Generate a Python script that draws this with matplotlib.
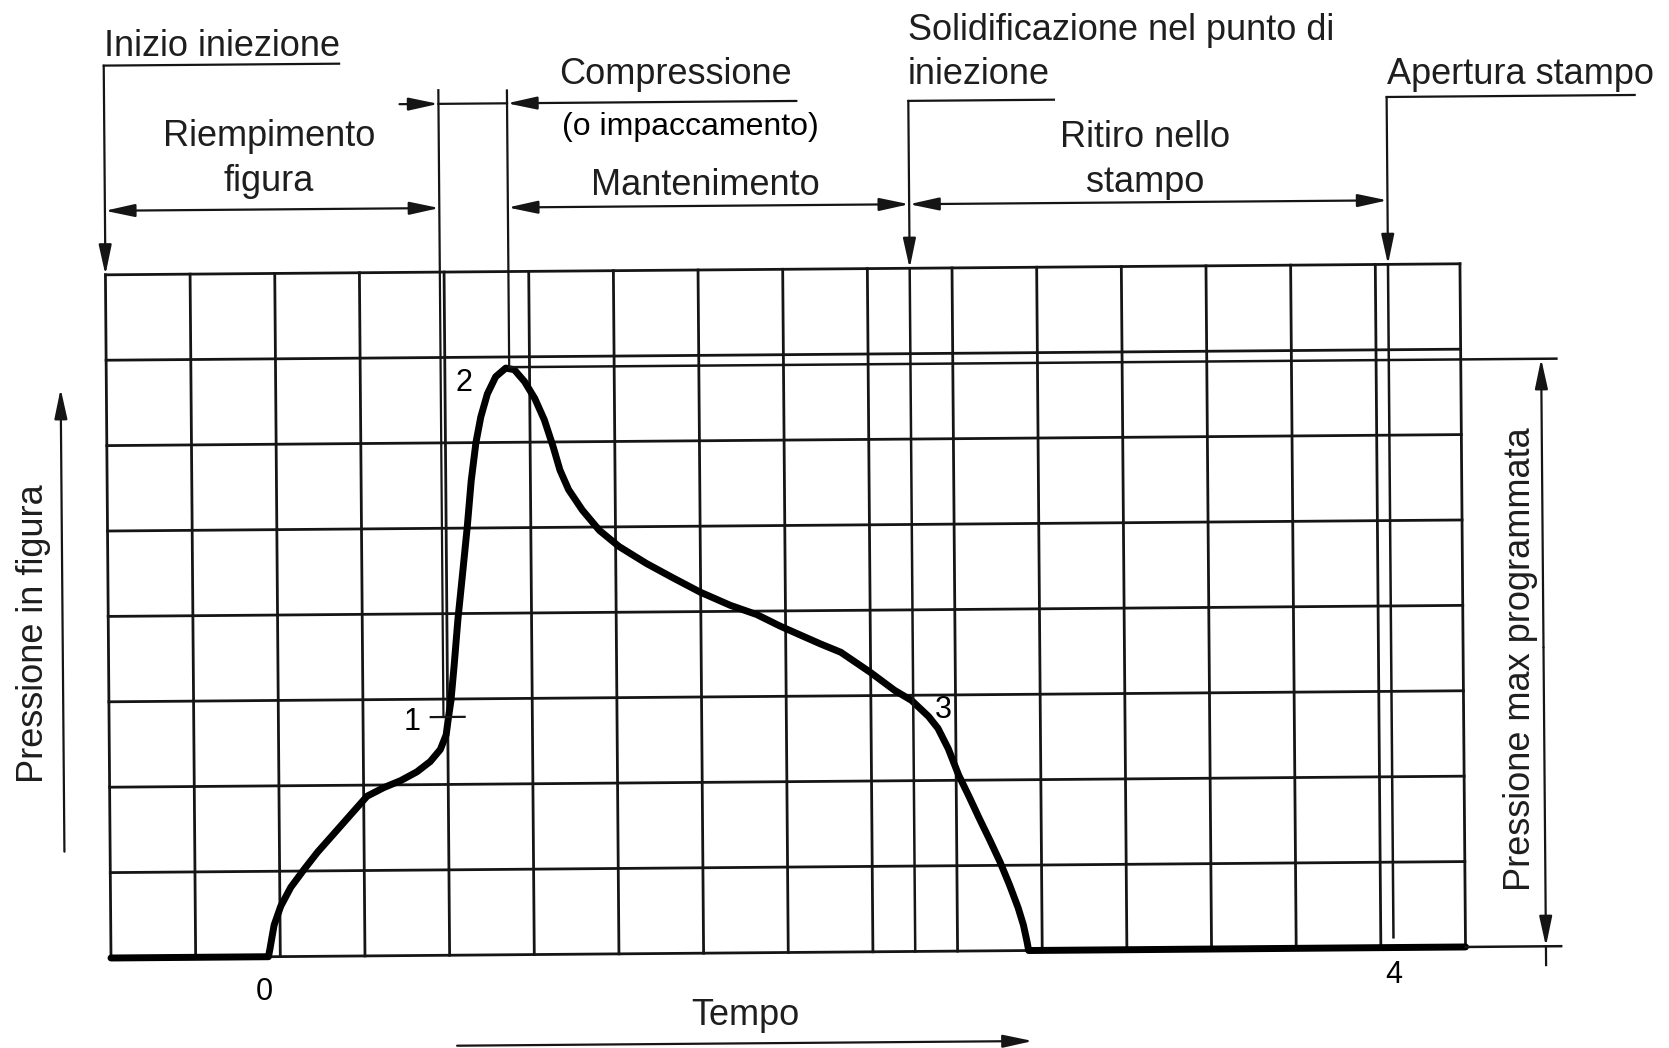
import matplotlib
matplotlib.use("Agg")
import matplotlib.pyplot as plt
import matplotlib.transforms as mtransforms

plt.rcParams['font.family'] = ['Liberation Sans', 'DejaVu Sans']

# grid: 16 columns (time) x 8 rows (pressure)
n_cols = 16
n_rows = 8

# pressure curve, in grid units
curve_t = [0.0, 1.86, 1.88, 1.90, 1.93, 2.01, 2.13, 2.29, 2.45, 2.65, 2.84,
           3.04, 3.24, 3.44, 3.63, 3.79, 3.91, 3.98, 4.01, 4.04, 4.08, 4.13,
           4.19, 4.25, 4.30, 4.36, 4.42, 4.50, 4.60, 4.72, 4.82, 4.94, 5.06,
           5.17, 5.27, 5.35, 5.45, 5.61, 5.81, 6.04, 6.36, 6.67, 6.99, 7.35,
           7.66, 7.94, 8.41, 8.65, 9.0, 9.28, 9.48, 9.68, 9.79, 9.91, 10.03,
           10.15, 10.27, 10.39, 10.51, 10.62, 10.72, 10.78, 10.82, 10.84, 16.0]
curve_p = [0.0, 0.0, 0.1, 0.21, 0.37, 0.59, 0.81, 1.02, 1.22, 1.44, 1.65,
           1.87, 1.97, 2.05, 2.15, 2.27, 2.41, 2.58, 2.79, 2.98, 3.38, 3.93,
           4.47, 5.02, 5.55, 6.0, 6.30, 6.57, 6.77, 6.87, 6.85, 6.71, 6.51,
           6.26, 5.95, 5.67, 5.44, 5.20, 4.96, 4.77, 4.57, 4.40, 4.23, 4.07,
           3.96, 3.82, 3.61, 3.51, 3.27, 3.06, 2.94, 2.75, 2.61, 2.37, 2.06,
           1.81, 1.55, 1.30, 1.04, 0.77, 0.50, 0.30, 0.11, 0.0, 0.0]

# phase boundaries (time) and key points
t_fill = 3.95
t_peak = 4.76
t_solid = 9.5
t_open = 15.15
p_max = 6.88
p_point1 = 2.79

point_labels = ["0", "1", "2", "3", "4"]
point_pos = [(1.81, -0.415), (3.58, 2.74), (4.22, 6.70), (9.85, 2.82), (15.15, -0.32)]

col_w = 84.66
row_h = 85.4
x0_px = 111
y0_px = 958
tilt = 0.467  # the scanned sheet is slightly rotated

fig = plt.figure(figsize=(16.69, 10.48), dpi=100)
ax = fig.add_axes([0, 0, 1, 1])
ax.set_xlim(-x0_px / col_w, (1669 - x0_px) / col_w)
ax.set_ylim(-(1048 - y0_px) / row_h, y0_px / row_h)
ax.axis('off')

ox, oy = ax.transData.transform((0, 0))
frame = ax.transData + mtransforms.Affine2D().rotate_deg_around(ox, oy, tilt)

ink = '#151515'
txt = '#1e1e1e'
fs = 26


def line(xs, ys, lw=1.6, color=ink, **kw):
    ax.plot(xs, ys, color=color, lw=lw, transform=frame, **kw)


def label(x, y, s, size=fs, color=txt, **kw):
    kw.setdefault('ha', 'center')
    kw.setdefault('va', 'center')
    ax.text(x, y, s, fontsize=size, color=color, transform=frame, **kw)


def arrow(xy, xytext, style='-|>'):
    ax.annotate('', xy=xy, xytext=xytext, xycoords=frame, textcoords=frame,
                arrowprops=dict(arrowstyle=style + ',head_length=1.3,head_width=0.28',
                                mutation_scale=14, lw=1.6, color=ink,
                                shrinkA=0, shrinkB=0))


# grid
for i in range(n_cols + 1):
    line([i, i], [0, n_rows], lw=2.0)
for j in range(n_rows + 1):
    line([0, n_cols], [j, j], lw=2.0)

# curve
line(curve_t, curve_p, lw=5, color='black', solid_joinstyle='round',
     solid_capstyle='round')

# Inizio iniezione
label(0.0, 10.67, "Inizio iniezione", ha='left')
line([0, 2.78], [10.45, 10.45])
arrow((0, n_rows), (0, 10.45))

# Riempimento figura
line([t_fill, t_fill], [p_point1, 10.13])
line([3.8, 4.2], [p_point1, p_point1])
label(1.94, 9.335, "Riempimento\nfigura", linespacing=1.37)
arrow((0, 8.75), (t_fill, 8.75), '<|-|>')

# Compressione
line([t_peak, t_peak], [p_max, 10.12])
arrow((t_fill, 9.97), (3.49, 9.97))
line([t_fill, t_peak], [9.97, 9.97])
arrow((t_peak, 9.97), (8.18, 9.97))
label(6.75, 10.29, "Compressione")
label(6.92, 9.67, "(o impaccamento)", size=23, color='black')

# Mantenimento
label(7.10, 8.99, "Mantenimento")
arrow((t_peak, 8.75), (t_solid, 8.75), '<|-|>')

# Solidificazione nel punto di iniezione
label(9.50, 10.79, "Solidificazione nel punto di", ha='left')
label(9.50, 10.27, "iniezione", ha='left')
line([t_solid, 11.22], [9.96, 9.96])
line([t_solid, t_solid], [0, n_rows], lw=1.8)
arrow((t_solid, n_rows), (t_solid, 9.96))

# Ritiro nello stampo
label(12.29, 9.25, "Ritiro nello\nstampo", linespacing=1.37)
arrow((t_solid, 8.75), (t_open, 8.75), '<|-|>')

# Apertura stampo
label(15.16, 10.22, "Apertura stampo", ha='left')
line([t_open, 18.08], [9.96, 9.96])
line([t_open, t_open], [0.12, n_rows], lw=1.8)
arrow((t_open, n_rows), (t_open, 9.96))

# Pressione max programmata
line([t_peak, 17.13], [p_max, p_max], lw=1.8)
line([n_cols, 17.13], [0, 0], lw=1.8)
arrow((16.95, p_max), (16.95, 3.5))
arrow((16.95, 0), (16.95, 3.5))
line([16.95, 16.95], [0, -0.22])
label(16.68, 3.36, "Pressione max programmata", rotation=90)

# axis captions
label(-0.88, 3.81, "Pressione in figura", rotation=90)
arrow((-0.54, 6.67), (-0.54, 1.25))
label(7.49, -0.735, "Tempo")
arrow((10.88, -1.06), (4.08, -1.06))

# point labels
for lab, (px, py) in zip(point_labels, point_pos):
    label(px, py, lab, size=22, color='black')

fig.savefig("out.png", dpi=100, facecolor='white')
